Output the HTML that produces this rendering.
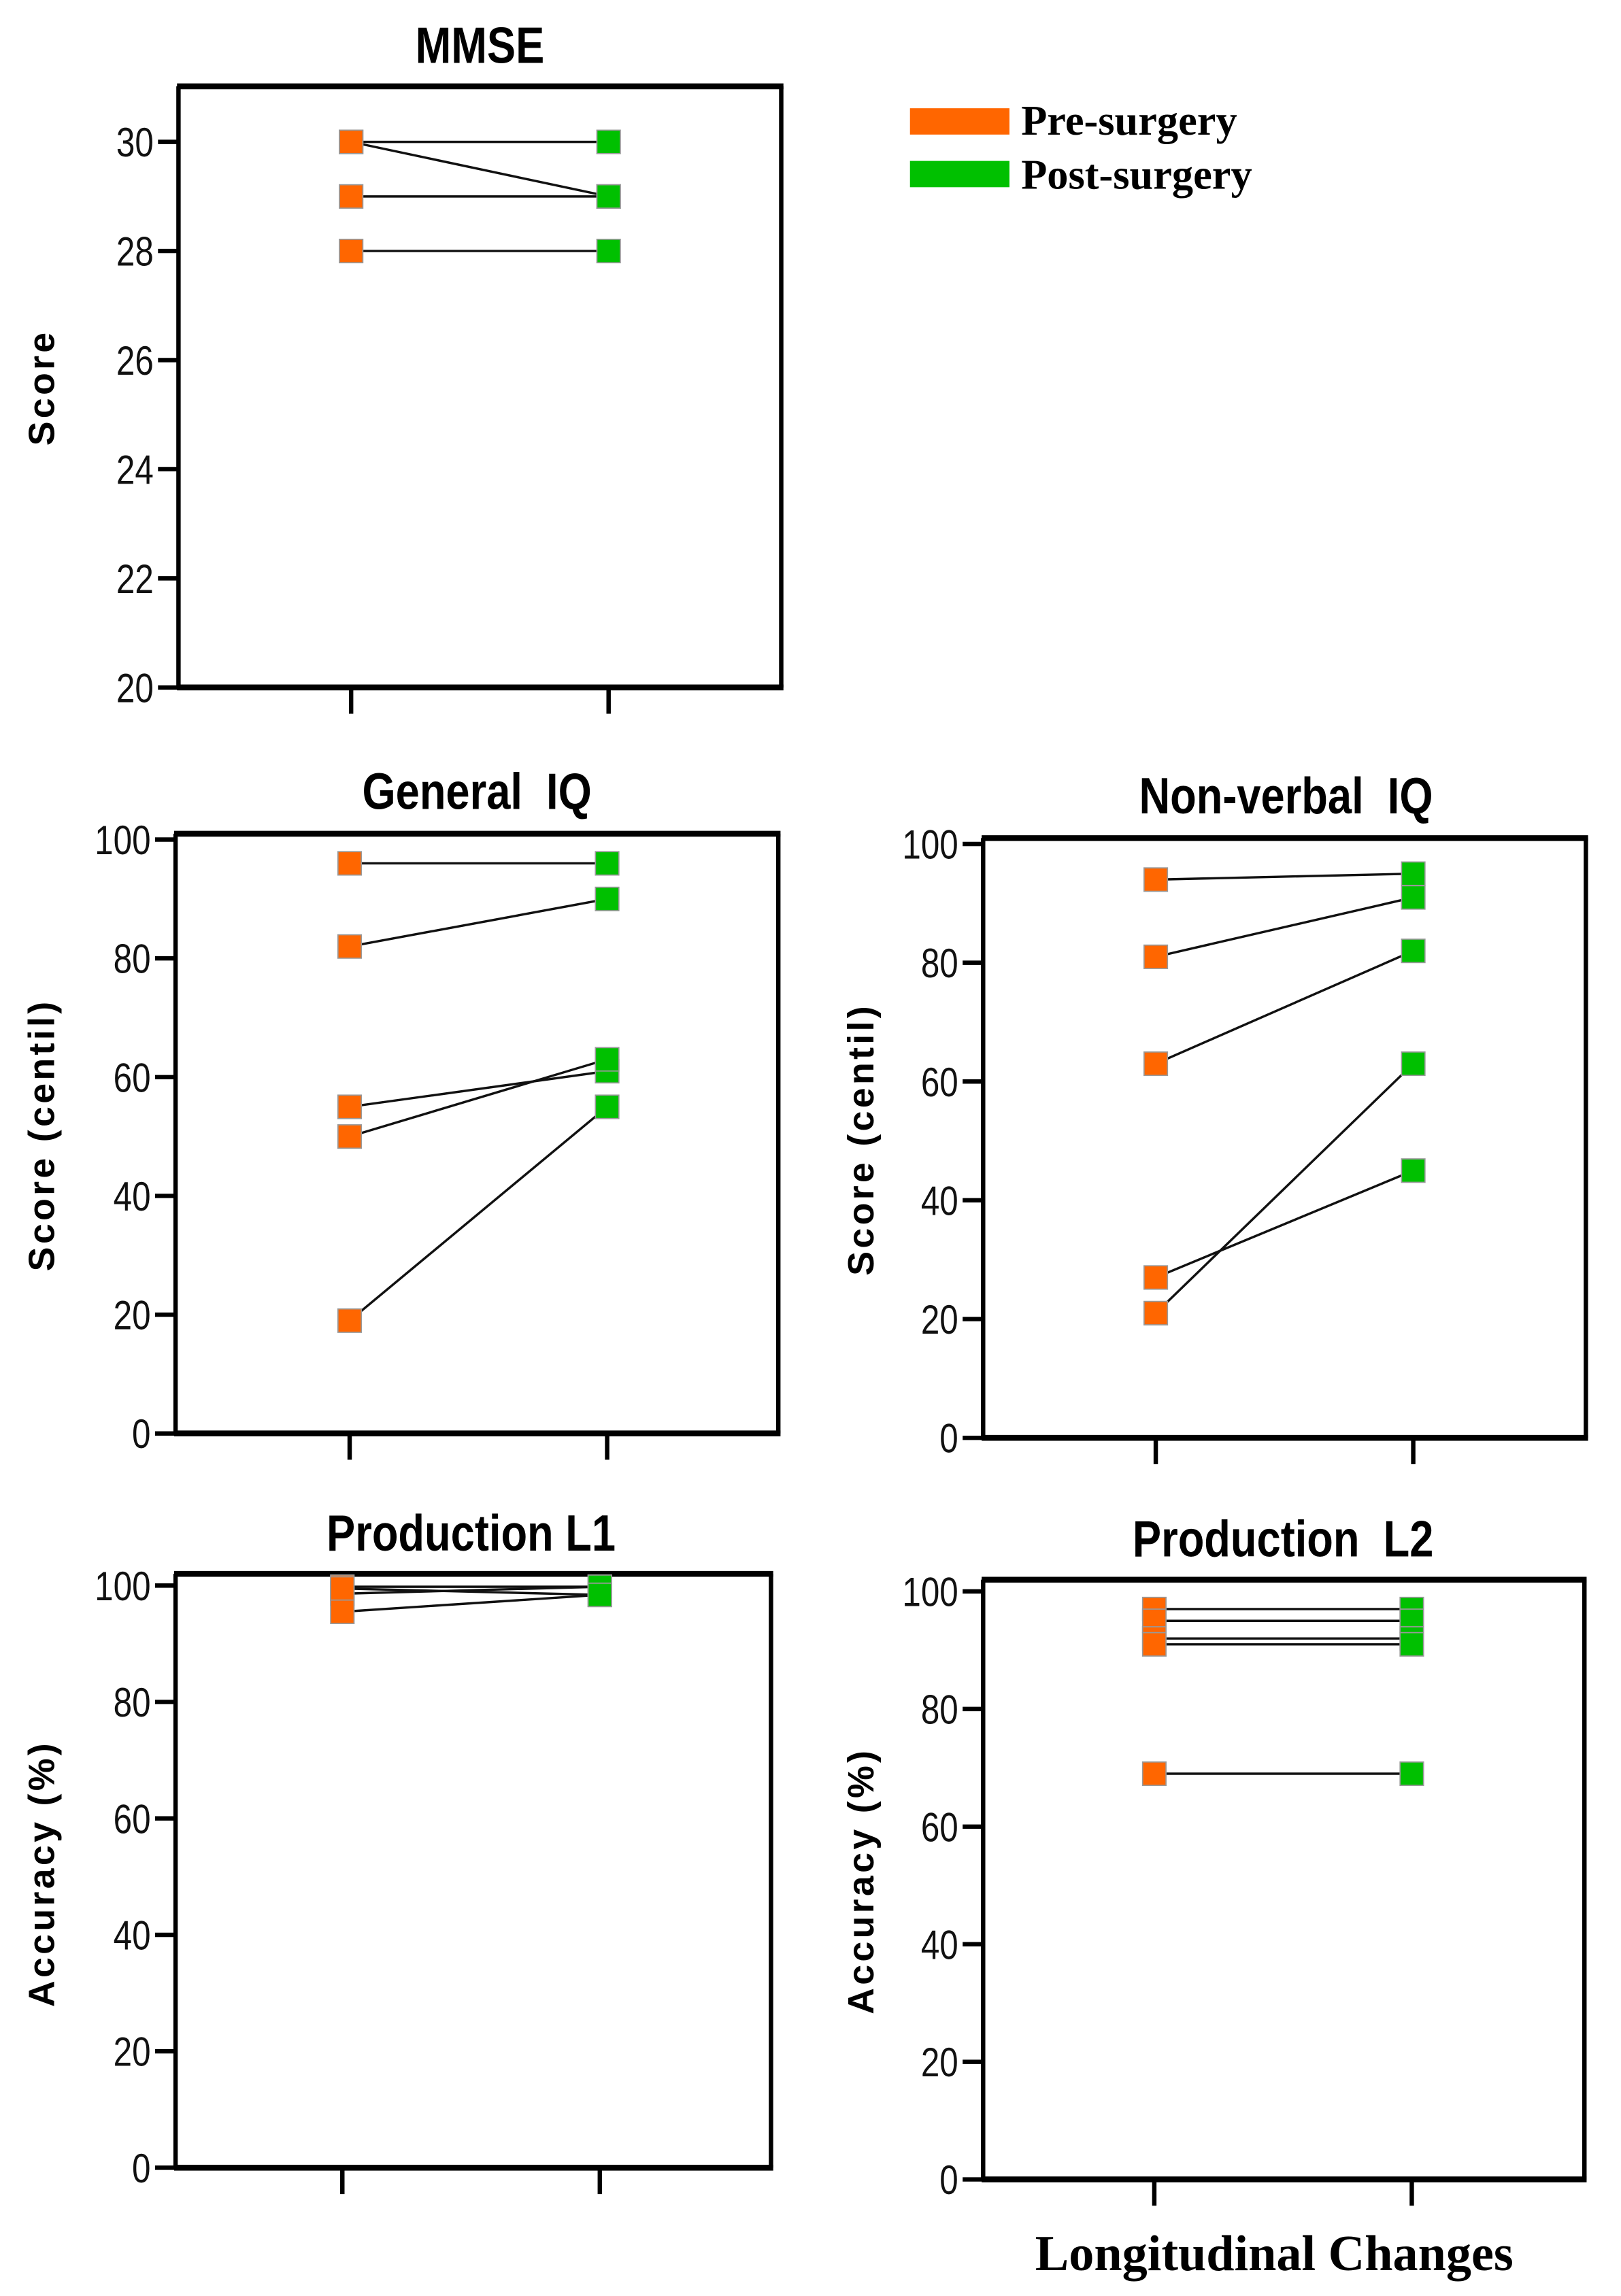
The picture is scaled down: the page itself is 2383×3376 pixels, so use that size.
<!DOCTYPE html>
<html><head><meta charset="utf-8"><style>
html,body{margin:0;padding:0;background:#fff;}
svg{display:block;}
.tick{font-family:"Liberation Sans Narrow","Liberation Sans",sans-serif;font-size:28px;fill:#111;}
.title{font-family:"Liberation Sans Narrow","Liberation Sans",sans-serif;font-size:35px;font-weight:bold;fill:#000;white-space:pre;}
.ylab{font-family:"Liberation Sans",sans-serif;font-size:25px;font-weight:bold;fill:#000;letter-spacing:2px;}
.serif{font-family:"Liberation Serif",serif;font-size:28px;font-weight:bold;fill:#000;}
</style></head><body>
<svg id="fig" width="2383" height="3376" viewBox="0 0 1108 1569.7" xmlns="http://www.w3.org/2000/svg">
<rect x="0" y="0" width="1108" height="1569.7" fill="#fff"/>
<g>
<rect x="622" y="74" width="68" height="18" fill="#ff6600"/>
<text class="serif" x="698" y="92" style="font-size:29px">Pre-surgery</text>
<rect x="622" y="110" width="68" height="18" fill="#00c000"/>
<text class="serif" x="698" y="129" style="font-size:29px">Post-surgery</text>
</g>
<text class="serif" x="871" y="1552" text-anchor="middle" style="font-size:34.5px">Longitudinal Changes</text>
</svg>
<script>
// MMSE
const mmsePre = [30, 30, 29, 28];
const mmsePost = [30, 29, 29, 28];
const mmseTicks = [20, 22, 24, 26, 28, 30];
// General IQ
const giqPre = [96, 82, 55, 50, 19];
const giqPost = [96, 90, 61, 63, 55];
const giqTicks = [0, 20, 40, 60, 80, 100];
// Non-verbal IQ
const nvPre = [94, 81, 63, 27, 21];
const nvPost = [95, 91, 82, 45, 63];
const nvTicks = [0, 20, 40, 60, 80, 100];
// Production L1
const l1Pre = [99.8, 98.6, 99.5, 95.5];
const l1Post = [99.8, 99.8, 98.4, 98.4];
const l1Ticks = [0, 20, 40, 60, 80, 100];
// Production L2
const l2Pre = [97, 95, 92, 91, 69];
const l2Post = [97, 95, 92, 91, 69];
const l2Ticks = [0, 20, 40, 60, 80, 100];

const NS = "http://www.w3.org/2000/svg";
const svg = document.getElementById('fig');
function mk(tag, attrs, parent){
  const e = document.createElementNS(NS, tag);
  for (const k in attrs) e.setAttribute(k, attrs[k]);
  (parent||svg).appendChild(e);
  return e;
}
function panel(p){
  const g = mk('g', {});
  
  
  const y = v => p.y0 - (v - p.vmin) / (p.vmax - p.vmin) * (p.y0 - p.y1);
  const t = mk('text', {x: 0, y: 0, class: 'title', 'text-anchor': 'middle', transform: `translate(${p.tcx},${p.ty}) scale(0.84,1)`}, g);
  
  
  t.textContent = p.title;
  const yl = mk('text', {x: 0, y: 0, class: 'ylab', 'text-anchor': 'middle', transform: `translate(${p.ylx},${p.yly}) rotate(-90)`}, g);
  
  
  yl.textContent = p.ylabel;
  mk('line', {x1: p.x0, y1: p.top, x2: p.x0, y2: p.y0, stroke: '#000', 'stroke-width': 3}, g);
  mk('line', {x1: p.x2, y1: p.top, x2: p.x2, y2: p.y0, stroke: '#000', 'stroke-width': 3}, g);
  mk('line', {x1: p.x0 - 1, y1: p.top, x2: p.x2 + 1.5, y2: p.top, stroke: '#000', 'stroke-width': 4}, g);
  mk('line', {x1: p.x0 - 1, y1: p.y0, x2: p.x2 + 1.5, y2: p.y0, stroke: '#000', 'stroke-width': 4}, g);
  p.ticks.forEach(v => {
    const yy = y(v);
    mk('line', {x1: p.x0 - 14, y1: yy, x2: p.x0, y2: yy, stroke: '#000', 'stroke-width': 3}, g);
    const tx = mk('text', {x: 0, y: 0, class: 'tick', 'text-anchor': 'end', transform: `translate(${p.x0 - 17},${yy + 10}) scale(0.82,1)`}, g);
    
    
    tx.textContent = v;
  });
  [p.cx1, p.cx2].forEach(cx => {
    mk('line', {x1: cx, y1: p.y0, x2: cx, y2: p.y0 + 18, stroke: '#000', 'stroke-width': 3}, g);
  });
  p.pre.forEach((v, i) => {
    const l = mk('line', {x1: p.cx1, y1: y(v), x2: p.cx2, y2: y(p.post[i]), stroke: '#111', 'stroke-width': 1.6}, g);
    
    
  });
  const s = 16;
  p.pre.forEach(v => {
    const r = mk('rect', {x: p.cx1 - s/2, y: y(v) - s/2, width: s, height: s, fill: '#ff6600', stroke: '#999', 'stroke-width': 0.8}, g);
    
    
  });
  p.post.forEach(v => {
    const r = mk('rect', {x: p.cx2 - s/2, y: y(v) - s/2, width: s, height: s, fill: '#00c000', stroke: '#999', 'stroke-width': 0.8}, g);
    
    
  });
}
panel({name:'mmse', title:'MMSE', ylabel:'Score', pre:mmsePre, post:mmsePost, ticks:mmseTicks,
  vmin:20, vmax:30, x0:122, x2:534, top:59, y0:470, y1:97, cx1:240, cx2:416, tcx:328, ty:43, ylx:37, yly:265});
panel({name:'general-iq', title:'General  IQ', ylabel:'Score (centil)', pre:giqPre, post:giqPost, ticks:giqTicks,
  vmin:0, vmax:100, x0:120, x2:532, top:570, y0:980, y1:574, cx1:239, cx2:415, tcx:326, ty:553, ylx:37, yly:776});
panel({name:'nonverbal-iq', title:'Non-verbal  IQ', ylabel:'Score (centil)', pre:nvPre, post:nvPost, ticks:nvTicks,
  vmin:0, vmax:100, x0:672, x2:1084, top:573, y0:983, y1:577, cx1:790, cx2:966, tcx:879, ty:556, ylx:597, yly:779});
panel({name:'production-l1', title:'Production L1', ylabel:'Accuracy (%)', pre:l1Pre, post:l1Post, ticks:l1Ticks,
  vmin:0, vmax:100, x0:120, x2:527, top:1076, y0:1482, y1:1084, cx1:234, cx2:410, tcx:322, ty:1060, ylx:37, yly:1281});
panel({name:'production-l2', title:'Production  L2', ylabel:'Accuracy (%)', pre:l2Pre, post:l2Post, ticks:l2Ticks,
  vmin:0, vmax:100, x0:672, x2:1083, top:1080, y0:1490, y1:1088, cx1:789, cx2:965, tcx:877, ty:1064, ylx:597, yly:1286});
</script>
</body></html>
